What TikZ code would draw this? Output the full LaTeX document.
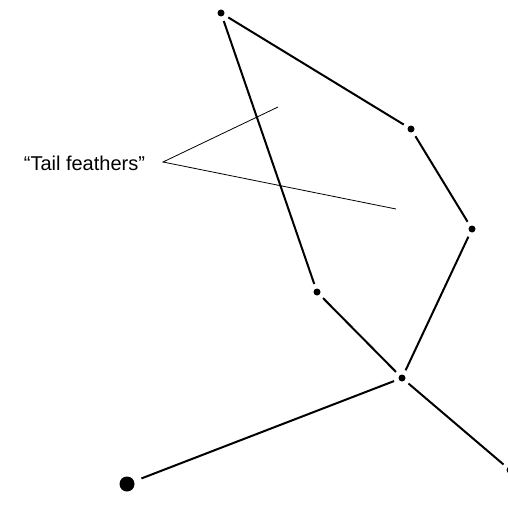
\documentclass[tikz,border=0pt]{standalone}
\usepackage{fontspec}
\setmainfont{Liberation Sans}
\usepackage{tikz}

\begin{document}
\begin{tikzpicture}[x=1pt, y=-1pt, line width=2pt,
                    dot/.style={circle, fill=black, inner sep=0pt, minimum size=7pt, outer sep=5pt},
                    bigdot/.style={circle, fill=black, inner sep=0pt, minimum size=15pt, outer sep=8pt}]
                    \useasboundingbox (0,0) rectangle (508,519);
                    \node[dot] (A) at (221,13) {};
                    \node[dot] (B) at (411,129) {};
                    \node[dot] (C) at (472,229) {};
                    \node[dot] (D) at (317,292) {};
                    \node[dot] (E) at (402,378) {};
                    \node[bigdot] (F) at (127,484) {};
                    \node[dot] (G) at (510,470) {};
                    \node[font=\fontsize{20}{24}\selectfont, inner sep=0pt, anchor=east] (L) at (146,163) {“Tail feathers”};
                    \coordinate (V) at (163,162);
                    \coordinate (P) at (278,107);
                    \coordinate (Q) at (396,209);
                    \draw (A) -- (B); \draw (B) -- (C); \draw (C) -- (E); \draw (A) -- (D); \draw (D) -- (E);
                    \draw (E) -- (F); \draw (E) -- (G);
                    \draw[line width=0.8pt] (P) -- (V) -- (Q);
                \end{tikzpicture}
\end{document}
